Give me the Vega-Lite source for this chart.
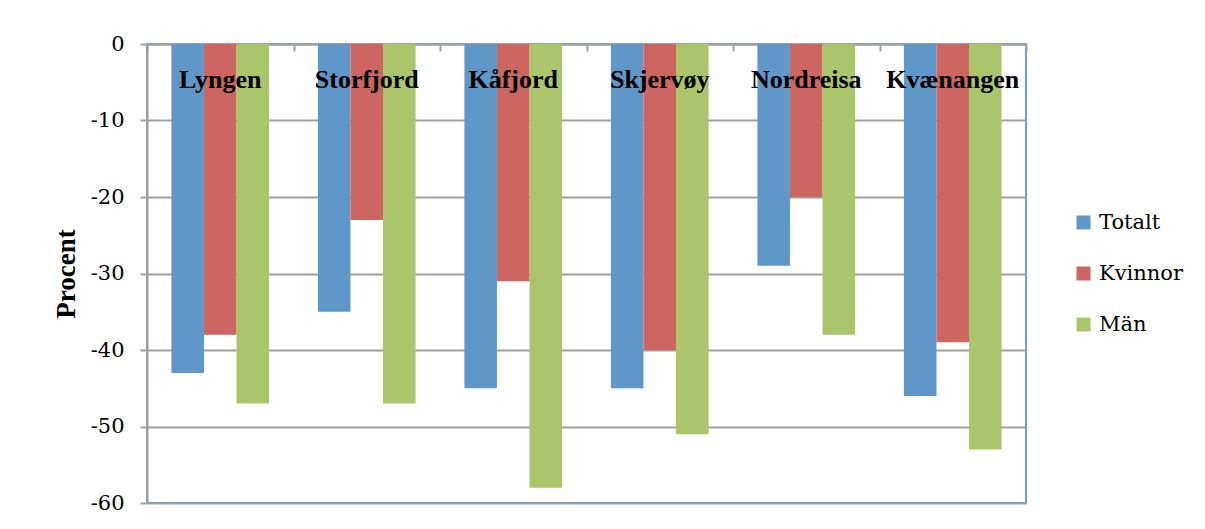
{
  "$schema": "https://vega.github.io/schema/vega-lite/v6.json",
  "width": 879,
  "height": 459,
  "autosize": "none",
  "padding": {"left": 147, "top": 44, "right": 179, "bottom": 26},
  "background": "white",
  "config": {
    "font": "Liberation Serif",
    "view": {"stroke": "#6a9fd4", "strokeWidth": 2}
  },
  "data": {
    "values": [
      {"kommun": "Lyngen", "grupp": "Totalt", "procent": -43},
      {"kommun": "Lyngen", "grupp": "Kvinnor", "procent": -38},
      {"kommun": "Lyngen", "grupp": "Män", "procent": -47},
      {"kommun": "Storfjord", "grupp": "Totalt", "procent": -35},
      {"kommun": "Storfjord", "grupp": "Kvinnor", "procent": -23},
      {"kommun": "Storfjord", "grupp": "Män", "procent": -47},
      {"kommun": "Kåfjord", "grupp": "Totalt", "procent": -45},
      {"kommun": "Kåfjord", "grupp": "Kvinnor", "procent": -31},
      {"kommun": "Kåfjord", "grupp": "Män", "procent": -58},
      {"kommun": "Skjervøy", "grupp": "Totalt", "procent": -45},
      {"kommun": "Skjervøy", "grupp": "Kvinnor", "procent": -40},
      {"kommun": "Skjervøy", "grupp": "Män", "procent": -51},
      {"kommun": "Nordreisa", "grupp": "Totalt", "procent": -29},
      {"kommun": "Nordreisa", "grupp": "Kvinnor", "procent": -20},
      {"kommun": "Nordreisa", "grupp": "Män", "procent": -38},
      {"kommun": "Kvænangen", "grupp": "Totalt", "procent": -46},
      {"kommun": "Kvænangen", "grupp": "Kvinnor", "procent": -39},
      {"kommun": "Kvænangen", "grupp": "Män", "procent": -53}
    ]
  },
  "encoding": {
    "x": {
      "field": "kommun",
      "type": "nominal",
      "sort": null,
      "scale": {"paddingInner": 0, "paddingOuter": 0},
      "axis": {
        "orient": "top",
        "title": null,
        "labels": false,
        "domainColor": "#a0a0a0",
        "domainWidth": 2,
        "tickColor": "#a0a0a0",
        "tickWidth": 2,
        "tickSize": -7,
        "tickBand": "extent",
        "grid": false
      }
    }
  },
  "layer": [
    {
      "mark": {"type": "bar"},
      "encoding": {
        "xOffset": {
          "field": "grupp",
          "type": "nominal",
          "sort": ["Totalt", "Kvinnor", "Män"],
          "scale": {"paddingInner": 0, "paddingOuter": 0.75}
        },
        "y": {
          "field": "procent",
          "type": "quantitative",
          "scale": {"domain": [-60, 0], "nice": false},
          "axis": {
            "title": "Procent",
            "titleFont": "Liberation Serif",
            "titleFontSize": 27,
            "titleFontWeight": "bold",
            "titleColor": "black",
            "titlePadding": 10,
            "values": [0, -10, -20, -30, -40, -50, -60],
            "labelExpr": "'' + datum.value",
            "labelFont": "DejaVu Serif",
            "labelFontSize": 21,
            "labelColor": "black",
            "labelPadding": 16,
            "domainColor": "#a0a0a0",
            "domainWidth": 2,
            "tickColor": "#a0a0a0",
            "tickWidth": 2,
            "tickSize": 7,
            "gridColor": "#a0a0a0",
            "gridWidth": 2,
            "gridOpacity": 1
          }
        },
        "color": {
          "field": "grupp",
          "type": "nominal",
          "sort": ["Totalt", "Kvinnor", "Män"],
          "scale": {"domain": ["Totalt", "Kvinnor", "Män"], "range": ["#6097c9", "#cd6560", "#abc56a"]},
          "legend": {
            "title": null,
            "orient": "none",
            "legendX": 926,
            "legendY": 168,
            "symbolType": "square",
            "symbolSize": 196,
            "symbolStrokeWidth": 0,
            "labelFont": "DejaVu Serif",
            "labelFontSize": 21,
            "labelColor": "black",
            "labelOffset": 5,
            "rowPadding": 29,
            "labelLimit": 200
          }
        }
      }
    },
    {
      "mark": {"type": "text", "font": "Liberation Serif", "fontSize": 26, "fontWeight": "bold", "color": "black", "baseline": "middle", "align": "center"},
      "encoding": {
        "text": {"field": "kommun"},
        "y": {"datum": -4.7}
      },
      "transform": [{"filter": "datum.grupp === 'Totalt'"}]
    }
  ]
}
